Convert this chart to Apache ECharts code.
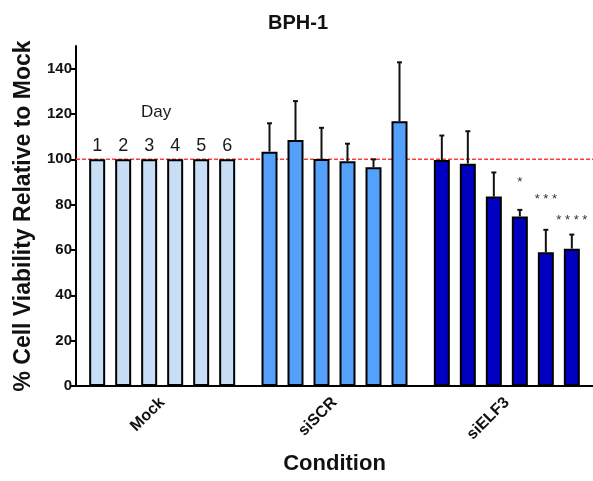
<!DOCTYPE html>
<html>
<head>
<meta charset="utf-8">
<script src="https://cdn.jsdelivr.net/npm/echarts@6/dist/echarts.min.js"></script>
<style>
	html, body { margin: 0; padding: 0; background: #fff; }
	#chart { width: 593px; height: 481px; }
</style>
</head>
<body>
<div id="chart"></div>
<script>
var conditions = ['Mock', 'siSCR', 'siELF3'];
var days = ['1', '2', '3', '4', '5', '6'];
// mean per day, one array per condition
var mockVals = [100, 100, 100, 100, 100, 100];
var scrVals = [103.4, 108.5, 100.1, 99.2, 96.5, 116.8];
var elfVals = [99.7, 98.1, 83.6, 74.8, 59.0, 60.6];
// upper error (SD) per day
var mockErr = [0, 0, 0, 0, 0, 0];
var scrErr = [12.5, 17.2, 13.8, 7.7, 3.5, 26.0];
var elfErr = [10.8, 14.3, 10.6, 2.9, 9.9, 6.2];
// significance marks for siELF3 and where they sit
var elfSig = ['', '', '', '*', '* * *', '* * * *'];
var elfSigPos = [0, 0, 0, 89.7, 82.3, 73.1];
var refLine = 100;
var yTicks = [0, 20, 40, 60, 80, 100, 120, 140];

var colors = ['#c8ddf6', '#55a0fa', '#0000c0'];
var font = 'Liberation Sans, Arial, sans-serif';
var pitch = 26;

var allVals = [mockVals, scrVals, elfVals];
var allErr = [mockErr, scrErr, elfErr];

var chart = echarts.init(document.getElementById('chart'));

var series = [];
days.forEach(function(d, di) {
	series.push({
		name: 'Day ' + d,
		type: 'bar',
		barWidth: 16,
		barGap: '62.5%',
		z: 2,
		data: conditions.map(function(c, ci) {
			var item = {
				value: allVals[ci][di],
				itemStyle: { color: colors[ci], borderColor: '#000', borderWidth: 2 }
			};
			if (ci === 0) {
				item.label = {
					show: true,
					position: 'top',
					distance: 4,
					formatter: d,
					color: '#1a1a1a',
					fontSize: 18,
					fontFamily: font
				};
			}
			return item;
		})
	});
});

// red dashed reference line at 100
series.push({
	type: 'custom',
	z: 1,
	silent: true,
	encode: { x: 0, y: 1 },
	data: [[0, refLine]],
	renderItem: function(params, api) {
		var cs = params.coordSys;
		var y = api.coord([0, api.value(1)])[1];
		return {
			type: 'line',
			shape: { x1: cs.x, y1: y, x2: cs.x + cs.width, y2: y },
			style: { stroke: '#ff3b3b', lineWidth: 1.5, lineDash: [4, 2] }
		};
	}
});

// error bars
var errData = [];
conditions.forEach(function(c, ci) {
	days.forEach(function(d, di) {
		errData.push([ci, di, allVals[ci][di], allErr[ci][di]]);
	});
});
series.push({
	type: 'custom',
	z: 3,
	silent: true,
	encode: { x: 0, y: 2 },
	data: errData,
	renderItem: function(params, api) {
		var e = api.value(3);
		if (!e) return;
		var v = api.value(2);
		var p = api.coord([api.value(0), v]);
		var q = api.coord([api.value(0), v + e]);
		var x = p[0] + (api.value(1) - 2.5) * pitch;
		var st = { stroke: '#111', lineWidth: 2 };
		return {
			type: 'group',
			children: [
				{ type: 'line', shape: { x1: x, y1: p[1], x2: x, y2: q[1] }, style: st },
				{ type: 'line', shape: { x1: x - 2.5, y1: q[1], x2: x + 2.5, y2: q[1] }, style: st }
			]
		};
	}
});

// significance stars
var sigData = [];
days.forEach(function(d, di) {
	if (elfSig[di]) sigData.push([2, di, elfSigPos[di]]);
});
series.push({
	type: 'custom',
	z: 4,
	silent: true,
	encode: { x: 0, y: 2 },
	data: sigData,
	renderItem: function(params, api) {
		var p = api.coord([api.value(0), api.value(2)]);
		var x = p[0] + (api.value(1) - 2.5) * pitch;
		return {
			type: 'text',
			x: x,
			y: p[1],
			style: {
				text: elfSig[api.value(1)],
				fill: '#333',
				font: '13px ' + font,
				align: 'center',
				verticalAlign: 'middle'
			}
		};
	}
});

var option = {
	animation: false,
	title: {
		text: 'BPH-1',
		left: 293,
		textAlign: 'center',
		top: 8,
		textStyle: { fontFamily: font, fontSize: 20, fontWeight: 'bold', color: '#111' }
	},
	grid: { left: 76, right: 0, top: 46, bottom: 95 },
	xAxis: {
		type: 'category',
		data: conditions,
		name: 'Condition',
		nameLocation: 'middle',
		nameGap: 67,
		nameTextStyle: { fontFamily: font, fontSize: 22, fontWeight: 'bold', color: '#111' },
		axisLine: { lineStyle: { color: '#000', width: 2 } },
		axisTick: { alignWithLabel: true, length: 5, lineStyle: { color: '#000', width: 2 } },
		axisLabel: {
			rotate: 45,
			margin: 14,
			fontFamily: font,
			fontSize: 16,
			fontWeight: 'bold',
			color: '#111'
		}
	},
	yAxis: {
		type: 'value',
		min: 0,
		max: 150,
		interval: 10,
		name: '% Cell Viability Relative to Mock',
		nameLocation: 'middle',
		nameGap: 41,
		nameTextStyle: { fontFamily: font, fontSize: 23, fontWeight: 'bold', color: '#111' },
		splitLine: { show: false },
		axisLine: { show: true, lineStyle: { color: '#000', width: 2 } },
		axisTick: { show: true, length: 5, customValues: yTicks, lineStyle: { color: '#000', width: 2 } },
		axisLabel: {
			customValues: yTicks,
			margin: 4,
			fontFamily: font,
			fontSize: 15,
			fontWeight: 'bold',
			color: '#111'
		}
	},
	graphic: [{
		type: 'text',
		left: 141,
		top: 104,
		style: { text: 'Day', font: '17px ' + font, fill: '#1a1a1a' }
	}],
	series: series
};
chart.setOption(option);
</script>
</body>
</html>
